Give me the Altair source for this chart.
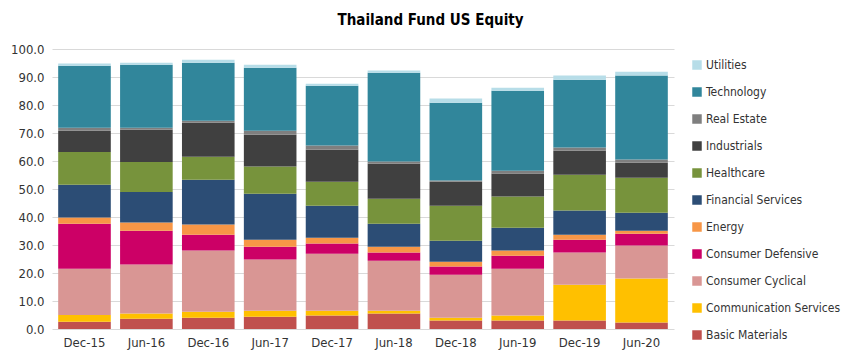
import altair as alt
import pandas as pd

periods = ["Dec-15", "Jun-16", "Dec-16", "Jun-17", "Dec-17", "Jun-18", "Dec-18", "Jun-19", "Dec-19", "Jun-20"]

# legend order (top to bottom)
sectors = ["Utilities", "Technology", "Real Estate", "Industrials", "Healthcare",
           "Financial Services", "Energy", "Consumer Defensive", "Consumer Cyclical",
           "Communication Services", "Basic Materials"]
colors = ["#b7dde8", "#31869b", "#7f7f7f", "#404040", "#77933c",
          "#2c4d75", "#f79646", "#cc0066", "#d99694", "#ffc000", "#c0504d"]

basic_materials = [2.6, 3.7, 4.0, 4.4, 4.8, 5.5, 3.0, 3.0, 3.0, 2.3]
communication = [2.4, 1.8, 2.2, 2.1, 1.7, 1.0, 1.0, 1.8, 12.8, 15.7]
consumer_cyclical = [16.5, 17.5, 21.8, 18.3, 20.4, 17.9, 15.4, 16.7, 11.5, 11.8]
consumer_defensive = [16.1, 12.1, 5.7, 4.6, 3.6, 2.9, 2.9, 4.7, 4.6, 4.2]
energy = [2.2, 2.9, 3.6, 2.5, 2.1, 2.1, 1.7, 1.8, 1.8, 1.1]
financial = [11.7, 10.9, 16.0, 16.4, 11.4, 8.2, 7.5, 8.2, 8.6, 6.4]
healthcare = [11.7, 10.7, 8.2, 9.7, 8.6, 8.9, 12.5, 11.1, 12.8, 12.5]
industrials = [7.6, 11.6, 12.2, 11.4, 11.4, 12.5, 8.6, 8.2, 8.6, 5.4]
real_estate = [1.1, 0.7, 0.7, 1.4, 1.5, 0.8, 0.4, 1.0, 1.1, 1.1]
technology = [22.1, 22.5, 20.7, 22.5, 21.4, 31.7, 27.8, 28.6, 24.2, 30.0]
utilities = [0.8, 0.7, 1.1, 1.1, 0.7, 0.8, 1.5, 1.1, 1.5, 1.4]

series = {
    "Basic Materials": basic_materials,
    "Communication Services": communication,
    "Consumer Cyclical": consumer_cyclical,
    "Consumer Defensive": consumer_defensive,
    "Energy": energy,
    "Financial Services": financial,
    "Healthcare": healthcare,
    "Industrials": industrials,
    "Real Estate": real_estate,
    "Technology": technology,
    "Utilities": utilities,
}

rows = []
for stack_idx, (name, vals) in enumerate(series.items()):
    for p, v in zip(periods, vals):
        rows.append({"period": p, "sector": name, "value": v, "stack": stack_idx})
df = pd.DataFrame(rows)

FONT = "DejaVu Sans Condensed, Liberation Sans, sans-serif"

chart = alt.Chart(df).mark_bar().encode(
    x=alt.X("period:N", sort=periods, title=None,
            scale=alt.Scale(paddingInner=0.15, paddingOuter=0.1),
            axis=alt.Axis(labelAngle=0, ticks=False, domain=False, labelFontSize=13,
                          labelColor="#333333", labelFont=FONT, labelPadding=7)),
    y=alt.Y("value:Q", stack="zero", title=None,
            scale=alt.Scale(domain=[0, 100], nice=False),
            axis=alt.Axis(values=list(range(0, 101, 10)), format=".1f", ticks=False,
                          domain=False, labelFontSize=13, labelColor="#333333",
                          labelFont=FONT, labelPadding=8, gridColor="#d9d9d9")),
    color=alt.Color("sector:N", scale=alt.Scale(domain=sectors, range=colors),
                    legend=alt.Legend(title=None, orient="none", legendX=639, legendY=10,
                                      symbolType="square", symbolSize=90,
                                      symbolStrokeWidth=0, labelFontSize=12,
                                      labelFont=FONT, labelColor="#333333",
                                      rowPadding=15, labelOffset=3, labelLimit=0)),
    order=alt.Order("stack:Q", sort="ascending"),
).properties(
    width=622, height=280,
    title=alt.TitleParams("Thailand Fund US Equity", anchor="start", dx=327,
                          fontSize=15, font=FONT, fontWeight="bold", offset=15,
                          color="#000000"),
    autosize=alt.AutoSizeParams(type="none"),
    padding={"left": 44, "top": 41, "right": 174, "bottom": 27},
).configure_view(stroke=None)

chart.save("out.html", embed_options={"renderer": "svg", "actions": False})
